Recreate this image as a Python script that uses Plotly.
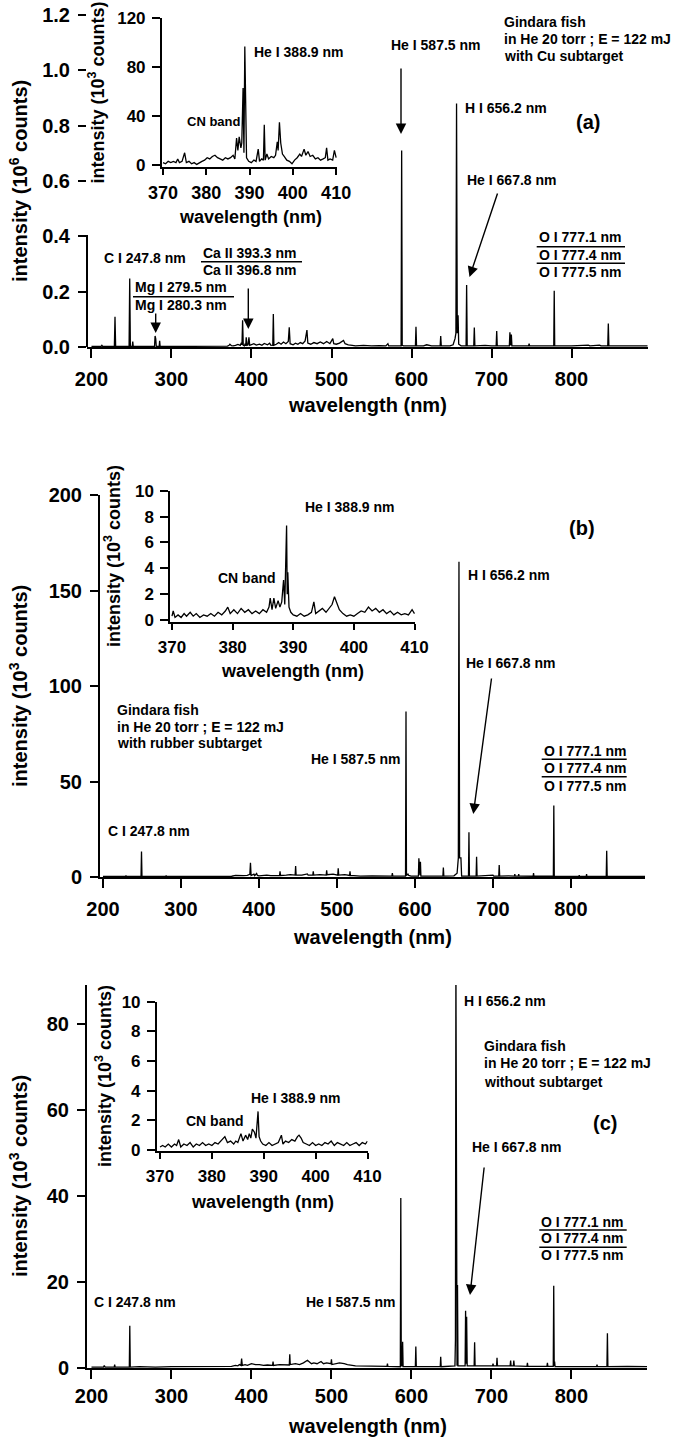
import plotly.graph_objects as go

W, H = 678, 1440
FONT = "Liberation Sans, Arial, Helvetica, sans-serif"

# ---------------- DATA ----------------
# Panel (a): Cu subtarget, intensity in 10^6 counts
a_wl = [200, 212, 213, 214, 228.6, 229.4, 230.2, 247.0, 247.8, 248.6,
        251.0, 251.6, 252.2, 278.8, 279.5, 280.3, 281.0, 284.6, 285.2, 285.8,
        300, 340, 370, 372, 373, 375, 377, 380, 383, 386,
        387.4, 388.1, 388.9, 389.7, 391.2, 392.0, 392.8, 393.4, 394.5, 395.8,
        396.8, 397.8, 400, 403, 406, 410, 413, 416, 420, 422.7,
        424, 426.6, 427.3, 428.0, 431, 434, 437, 440, 443, 446,
        447.2, 448.3, 452, 455, 458, 461, 464, 467, 469.3, 470.4,
        474, 478, 482, 486, 490, 494, 498, 501.6, 502.8, 506,
        510, 513, 515, 517, 521, 526, 530, 540, 550, 560,
        568, 570.5, 571.5, 580, 587.0, 587.7, 588.4, 590, 600, 604.9,
        605.6, 606.3, 615, 619, 625, 635.8, 636.5, 637.2, 648, 652,
        654.4, 655.5, 656.3, 657.2, 658.2, 659.0, 662, 668.2, 668.9, 669.6,
        677.8, 678.5, 679.2, 692, 700, 705.8, 706.5, 707.2, 718, 722.3,
        723.0, 723.8, 724.8, 725.5, 735, 746.3, 747.0, 747.7, 760, 777.8,
        778.4, 779.0, 800, 810, 812, 821, 823, 835, 837, 845.3,
        846.0, 846.7, 870, 895]
a_int = [.002, .002, .006, .002, .002, .109, .002, .002, .248, .002,
         .002, .020, .002, .002, .040, .030, .002, .002, .022, .002,
         .002, .002, .003, .006, .010, .005, .004, .006, .009, .006,
         .015, .008, .097, .006, .004, .012, .004, .035, .006, .008,
         .035, .006, .008, .012, .007, .010, .006, .013, .008, .014,
         .007, .006, .119, .006, .010, .016, .010, .018, .012, .020,
         .071, .012, .008, .014, .010, .016, .012, .022, .061, .014,
         .010, .016, .012, .018, .012, .020, .012, .030, .012, .010,
         .014, .020, .024, .012, .008, .006, .004, .006, .004, .005,
         .004, .012, .004, .004, .004, .710, .006, .004, .004, .004,
         .073, .004, .004, .008, .004, .004, .040, .004, .004, .008,
         .030, .050, .880, .050, .115, .010, .004, .004, .224, .004,
         .004, .070, .004, .006, .004, .004, .058, .004, .004, .004,
         .053, .006, .045, .004, .004, .004, .012, .004, .004, .004,
         .203, .004, .004, .006, .004, .007, .004, .007, .004, .004,
         .085, .004, .004, .004]

# Panel (b): rubber subtarget, intensity in 10^3 counts
b_wl = [200, 228.9, 229.5, 230.1, 248.8, 249.4, 250.0, 280.4, 281.0, 281.6,
        300, 340, 360, 365, 370, 375, 380, 385, 387.5, 388.3,
        389.1, 389.9, 393.5, 394.5, 397.0, 398, 400, 405, 410, 415,
        420, 426.4, 427.0, 427.6, 435, 440, 446.4, 447.0, 447.6, 455,
        462, 463, 469.0, 469.6, 470.2, 478, 486.2, 486.8, 487.4, 495,
        501.0, 501.6, 502.2, 510, 516.1, 516.7, 517.3, 530, 545, 560,
        570.4, 571.0, 571.6, 580, 587.9, 588.5, 589.1, 591, 592, 595,
        604.4, 605.0, 605.7, 606.4, 607.0, 607.6, 620, 635.8, 636.4, 637.0,
        650, 654, 655.6, 656.4, 657.2, 658.9, 659.8, 668.6, 669.2, 669.8,
        678.4, 679.0, 679.6, 690, 700, 701, 707.4, 708.0, 708.6, 720,
        727.5, 728.0, 728.5, 732.5, 733.0, 733.5, 745, 751.5, 752.0, 752.5,
        777.4, 778.0, 778.6, 800, 810.2, 810.6, 811.0, 819.6, 820.0, 820.4,
        845.2, 845.8, 846.4, 872.6, 873.0, 873.4, 895]
b_int = [0.3, 0.3, 0.8, 0.3, 0.3, 13.3, 0.3, 0.3, 0.8, 0.3,
         0.3, 0.3, 0.5, 0.4, 0.8, 0.6, 0.7, 0.9, 1.5, 1.4,
         7.5, 0.8, 1.5, 0.7, 1.8, 0.8, 0.6, 0.9, 1.0, 0.7,
         0.9, 0.8, 3.0, 0.8, 1.0, 1.2, 1.0, 5.8, 1.0, 1.0,
         1.6, 1.0, 1.0, 3.0, 1.0, 1.2, 1.0, 3.5, 1.2, 1.5,
         1.0, 4.5, 1.0, 1.2, 0.8, 3.0, 0.8, 0.5, 0.6, 0.6,
         0.5, 2.0, 0.5, 0.5, 0.5, 86.7, 0.8, 1.5, 0.8, 0.5,
         0.5, 9.8, 1.0, 1.0, 8.0, 0.5, 0.5, 0.5, 5.0, 0.5,
         0.6, 2.0, 10.0, 165.0, 10.0, 10.0, 0.5, 0.5, 23.4, 0.5,
         0.5, 10.6, 0.5, 0.6, 1.0, 0.5, 0.5, 6.3, 0.5, 0.6,
         0.5, 1.5, 0.5, 0.5, 1.5, 0.5, 0.4, 0.4, 2.0, 0.4,
         0.4, 37.4, 0.4, 0.3, 0.3, 1.0, 0.3, 0.3, 1.5, 0.3,
         0.3, 13.8, 0.3, 0.3, 0.6, 0.3, 0.3]

# Panel (c): without subtarget, intensity in 10^3 counts
c_wl = [200, 215, 216, 217, 228.4, 229.0, 229.6, 247.3, 247.9, 248.5,
        260, 280, 300, 340, 360, 375, 380, 383, 385, 386.9,
        387.7, 388.5, 392, 395, 400, 405, 410, 415, 420, 426.4,
        427.0, 427.6, 435, 440, 447.3, 447.9, 448.5, 455, 460, 465,
        470, 475, 478, 482, 487, 490, 494, 499.4, 500.0, 500.6,
        505, 510, 516, 520, 530, 550, 569.4, 570.0, 570.6, 586.1,
        586.7, 587.3, 588.4, 589.0, 589.6, 604.9, 605.5, 606.1, 636.0, 636.6,
        637.2, 654.4, 655.0, 655.6, 656.4, 657.0, 657.6, 658.2, 667.1, 667.7,
        668.3, 669.0, 669.7, 678.4, 679.0, 679.6, 701.4, 702.0, 702.6, 706.4,
        707.0, 707.6, 723.4, 724.0, 724.6, 727.4, 728.0, 728.6, 744.4, 745.0,
        745.6, 769.4, 770.0, 770.6, 777.3, 777.9, 778.5, 779.0, 779.6, 810,
        831.4, 832.0, 832.6, 844.4, 845.0, 845.6, 870, 895]
c_int = [0.2, 0.2, 0.6, 0.2, 0.2, 0.8, 0.2, 0.2, 9.8, 0.2,
         0.3, 0.2, 0.3, 0.3, 0.4, 0.4, 0.6, 0.5, 0.8, 0.6,
         2.2, 0.6, 0.8, 0.6, 1.0, 0.8, 0.8, 0.6, 0.7, 0.6,
         1.5, 0.6, 0.8, 0.7, 0.7, 3.2, 0.8, 1.0, 0.8, 1.2,
         1.8, 1.0, 1.2, 1.0, 1.5, 1.0, 1.2, 1.0, 2.0, 0.8,
         1.0, 1.2, 1.0, 0.8, 0.5, 0.5, 0.4, 1.0, 0.4, 0.3,
         39.5, 0.5, 0.5, 6.1, 0.3, 0.3, 5.0, 0.3, 0.3, 2.6,
         0.3, 0.5, 6.5, 95.0, 1.0, 0.5, 19.3, 0.5, 0.5, 13.3,
         1.0, 11.9, 0.5, 0.5, 6.0, 0.5, 0.5, 1.0, 0.5, 0.5,
         2.4, 0.5, 0.5, 1.7, 0.5, 0.5, 1.7, 0.5, 0.4, 1.2,
         0.4, 0.4, 1.2, 0.4, 0.4, 19.1, 0.5, 1.5, 0.3, 0.4,
         0.3, 0.8, 0.3, 0.3, 8.1, 0.3, 0.4, 0.3]

# Insets (370-410 nm), intensity in 10^3 counts
ia_wl = [370.0, 370.6, 371.2, 371.8, 372.4, 373.0, 373.4, 373.8, 374.4, 375.0,
         375.4, 376.0, 376.6, 377.2, 377.8, 378.4, 379.0, 379.6, 380.2, 380.8,
         381.4, 382.0, 382.6, 383.2, 383.8, 384.4, 385.0, 385.6, 386.2, 386.6,
         387.0, 387.3, 387.6, 388.0, 388.2, 388.5, 388.7, 388.9, 389.1, 389.3,
         389.8, 390.4, 391.0, 391.5, 392.0, 392.3, 392.8, 393.2, 393.4, 393.6,
         394.0, 394.4, 395.0, 395.6, 396.0, 396.4, 396.6, 396.9, 397.2, 397.6,
         398.0, 398.6, 399.2, 399.8, 400.4, 401.0, 401.6, 402.0, 402.6, 403.0,
         403.5, 404.0, 404.6, 405.2, 405.8, 406.4, 407.0, 407.5, 407.8, 408.1,
         408.6, 409.2, 409.6, 410.0]
ia_int = [2, 1, 3, 2, 3, 2, 5, 2, 3, 10,
          2, 3, 1, 2, 0.5, 2, 3, 4, 6, 5,
          7, 8, 6, 5, 4, 6, 5, 6, 8, 5,
          22, 12, 23, 14, 18, 63, 10, 97, 20, 6,
          3, 2, 4, 3, 13, 3, 5, 4, 33, 4,
          9, 5, 7, 6, 8, 19, 12, 35, 18, 9,
          7, 4, 3, 1, 4, 6, 9, 7, 13, 8,
          11, 7, 8, 5, 6, 4, 5, 6, 14, 4,
          5, 4, 12, 6]

ib_wl = [370.0, 370.2, 370.5, 371.0, 371.5, 372.0, 372.4, 373.0, 373.5, 374.0,
         374.6, 375.2, 375.8, 376.4, 377.0, 377.6, 378.2, 378.8, 379.2, 379.6,
         380.2, 380.8, 381.4, 382.0, 382.6, 383.2, 383.8, 384.4, 385.0, 385.6,
         386.0, 386.2, 386.5, 386.8, 387.1, 387.5, 387.8, 388.1, 388.4, 388.6,
         388.9, 389.0, 389.1, 389.3, 389.6, 390.0, 390.6, 391.2, 391.8, 392.4,
         393.0, 393.4, 393.7, 394.2, 394.8, 395.4, 396.0, 396.4, 396.8, 397.2,
         397.6, 398.2, 398.8, 399.4, 400.0, 400.6, 401.2, 401.8, 402.4, 403.0,
         403.6, 404.2, 404.8, 405.4, 406.0, 406.6, 407.2, 407.8, 408.4, 409.0,
         409.6, 410.0]
ib_int = [0.3, 0.7, 0.2, 0.4, 0.2, 0.5, 0.3, 0.6, 0.3, 0.5,
          0.2, 0.4, 0.3, 0.5, 0.3, 0.6, 0.4, 0.7, 1.0, 0.5,
          0.8, 0.5, 0.9, 0.6, 0.8, 0.5, 0.7, 0.5, 0.8, 0.6,
          1.0, 1.7, 0.8, 1.7, 0.9, 1.5, 1.0, 1.4, 3.1, 1.2,
          7.3, 2.0, 3.7, 1.0, 0.6, 0.4, 0.3, 0.5, 0.3, 0.4,
          0.6, 1.4, 0.5, 0.7, 0.9, 0.6, 1.0, 1.2, 1.8, 1.3,
          0.8, 0.5, 0.3, 0.4, 0.3, 0.5, 0.7, 0.6, 1.0, 0.7,
          0.9, 0.6, 0.8, 0.5, 0.7, 0.4, 0.6, 0.4, 0.5, 0.4,
          0.8, 0.5]

ic_wl = [370.0, 370.5, 371.0, 371.6, 372.2, 372.8, 373.2, 373.6, 374.0, 374.6,
         375.2, 375.8, 376.4, 377.0, 377.6, 378.2, 378.8, 379.4, 380.0, 380.6,
         381.2, 381.8, 382.5, 383.0, 383.6, 384.2, 384.6, 385.0, 385.6, 386.0,
         386.5, 386.9, 387.2, 387.5, 387.8, 388.2, 388.5, 388.9, 389.1, 389.4,
         389.8, 390.4, 391.0, 391.6, 392.2, 392.8, 393.4, 393.7, 394.2, 394.8,
         395.4, 396.0, 396.5, 396.8, 397.2, 397.6, 398.2, 398.8, 399.4, 400.0,
         400.6, 401.2, 401.8, 402.4, 403.0, 403.6, 404.2, 404.8, 405.4, 406.0,
         406.6, 407.2, 407.8, 408.4, 409.0, 409.6, 410.0]
ic_int = [0.2, 0.3, 0.2, 0.4, 0.2, 0.4, 0.3, 0.7, 0.2, 0.4,
          0.3, 0.5, 0.2, 0.4, 0.3, 0.5, 0.3, 0.4, 0.3, 0.5,
          0.4, 0.6, 0.9, 0.5, 0.6, 0.4, 0.6, 0.5, 1.1, 0.6,
          1.0, 0.7, 1.1, 0.8, 1.4, 1.2, 0.8, 2.6, 0.9, 0.6,
          0.4, 0.3, 0.5, 0.3, 0.4, 0.5, 1.0, 0.4, 0.6, 0.5,
          0.7, 0.6, 0.9, 1.0, 0.8, 0.5, 0.4, 0.3, 0.5, 0.3,
          0.4, 0.3, 0.5, 0.4, 0.6, 0.3, 0.5, 0.4, 0.3, 0.5,
          0.3, 0.4, 0.5, 0.3, 0.5, 0.4, 0.6]

main_xticks = [200, 300, 400, 500, 600, 700, 800]
inset_xticks = [370, 380, 390, 400, 410]

# ---------------- HELPERS ----------------
def fx(x):
    return x / W


def fy(y):
    return 1 - y / H


def dom_x(x0, x1):
    return [fx(x0), fx(x1)]


def dom_y(ytop, ybot):
    return [fy(ybot), fy(ytop)]


def font(size):
    return dict(family=FONT, size=size, color="black", weight="bold")


def axis(size, lw, tl, standoff):
    return dict(showline=True, linecolor="black", linewidth=lw, ticks="outside",
                ticklen=tl, tickwidth=lw, tickcolor="black", showgrid=False,
                zeroline=False, tickfont=font(size), fixedrange=True,
                automargin=False, ticklabelstandoff=standoff)


fig = go.Figure()
series = [(a_wl, a_int, "x", "y"), (ia_wl, ia_int, "x2", "y2"),
          (b_wl, b_int, "x3", "y3"), (ib_wl, ib_int, "x4", "y4"),
          (c_wl, c_int, "x5", "y5"), (ic_wl, ic_int, "x6", "y6")]
for xs, ys, xa, ya in series:
    assert len(xs) == len(ys)
    fig.add_trace(go.Scatter(x=xs, y=ys, xaxis=xa, yaxis=ya, mode="lines",
                             line=dict(color="black", width=1.3), hoverinfo="skip"))

fig.update_layout(
    template="none",
    xaxis=dict(**axis(20, 2, 9, 4), domain=dom_x(87, 648), range=[194.4, 895.6],
               tickvals=main_xticks, anchor="y"),
    yaxis=dict(**axis(20, 2, 8, 4), domain=dom_y(15, 347), range=[0, 1.2],
               tickvals=[0, 0.2, 0.4, 0.6, 0.8, 1.0, 1.2], tickformat=".1f", anchor="x"),
    xaxis3=dict(**axis(20, 2, 9, 4), domain=dom_x(100, 645), range=[196.2, 894.9],
                tickvals=main_xticks, anchor="y3"),
    yaxis3=dict(**axis(20, 2, 8, 4), domain=dom_y(495, 877), range=[0, 200],
                tickvals=[0, 50, 100, 150, 200], anchor="x3"),
    xaxis5=dict(**axis(20, 2, 9, 0), domain=dom_x(87, 647), range=[194.4, 894.5],
                tickvals=main_xticks, anchor="y5"),
    yaxis5=dict(**axis(20, 2, 8, 4), domain=dom_y(985, 1368), range=[0, 89],
                tickvals=[0, 20, 40, 60, 80], anchor="x5"),
    xaxis2=dict(**axis(18, 1.5, 6, 3), domain=dom_x(161.7, 337), range=[369.7, 410.2],
                tickvals=inset_xticks, anchor="y2"),
    yaxis2=dict(**axis(17, 1.5, 8, 3), domain=dom_y(18.3, 167), range=[-1.6, 120],
                tickvals=[0, 40, 80, 120], anchor="x2"),
    xaxis4=dict(**axis(17, 1.5, 6, 3), domain=dom_x(170, 415), range=[369.67, 410.08],
                tickvals=inset_xticks, anchor="y4"),
    yaxis4=dict(**axis(17, 1.5, 8, 3), domain=dom_y(490.7, 622), range=[-0.15, 10],
                tickvals=[0, 2, 4, 6, 8, 10], anchor="x4"),
    xaxis6=dict(**axis(17, 1.5, 6, 3), domain=dom_x(156.7, 367.5), range=[369.36, 410.0],
                tickvals=inset_xticks, anchor="y6"),
    yaxis6=dict(**axis(17, 1.5, 8, 3), domain=dom_y(1001.7, 1151), range=[-0.07, 10],
                tickvals=[0, 2, 4, 6, 8, 10], anchor="x6"),
)
# panel (a): y axis line drawn only from 0 to 0.4 (as in the original)
fig.update_layout(yaxis_showline=False)

ann = []
shapes = []


def txt(s, x, y, size=14, anchor="left", angle=0):
    ann.append(dict(text=s, x=fx(x), y=fy(y), xref="paper", yref="paper",
                    xanchor=anchor, yanchor="middle", showarrow=False,
                    textangle=angle, font=font(size)))


def arrow(tx, ty, hx, hy):
    ann.append(dict(text="", x=fx(hx), y=fy(hy), xref="paper", yref="paper",
                    ax=tx - hx, ay=ty - hy, showarrow=True, arrowhead=2,
                    arrowsize=1.5, arrowwidth=1.4, arrowcolor="black"))


def hline(x0, x1, y):
    shapes.append(dict(type="line", xref="paper", yref="paper", x0=fx(x0), x1=fx(x1),
                       y0=fy(y), y1=fy(y), line=dict(color="black", width=1.5)))


shapes.append(dict(type="line", xref="paper", yref="y", x0=fx(87), x1=fx(87),
                   y0=0, y1=0.405, line=dict(color="black", width=2)))

# axis titles
for xc, yc in [(367.5, 405), (372.5, 937), (367, 1426)]:
    txt("wavelength (nm)", xc, yc, 20, "center")
txt("intensity (10<sup>6</sup> counts)", 18, 181, 20, "center", -90)
txt("intensity (10<sup>3</sup> counts)", 18, 686, 20, "center", -90)
txt("intensity (10<sup>3</sup> counts)", 18, 1176, 20, "center", -90)
for xc, yc in [(250.8, 217), (292.5, 671), (262, 1202)]:
    txt("wavelength (nm)", xc, yc, 18, "center")
txt("intensity (10<sup>3</sup> counts)", 97, 92.6, 18, "center", -90)
txt("intensity (10<sup>3</sup> counts)", 112, 556, 18, "center", -90)
txt("intensity (10<sup>3</sup> counts)", 103, 1076, 18, "center", -90)

# ---- panel (a) labels
txt("He I 388.9 nm", 252, 52)
txt("CN band", 185, 121.7, 13)
txt("C I 247.8 nm", 101.7, 258)
txt("Mg I 279.5 nm", 133, 287.3)
txt("Mg I 280.3 nm", 133, 305)
hline(133, 234, 296.7)
arrow(155.7, 312, 155.7, 333)
txt("Ca II 393.3 nm", 201, 252.7)
txt("Ca II 396.8 nm", 201, 270)
hline(201, 302, 261.7)
arrow(248.3, 287, 248.3, 329)
txt("He I 587.5 nm", 389, 45)
arrow(401, 67, 401, 134)
txt("H I 656.2 nm", 463, 108)
txt("(a)", 588, 122, 20, "center")
txt("Gindara fish", 502, 22)
txt("in He 20 torr ; E = 122 mJ", 502, 39.3)
txt("with Cu subtarget", 502, 56)
txt("He I 667.8 nm", 465, 180)
arrow(498, 192, 469.5, 277)
txt("O I 777.1 nm", 536.7, 237.3)
txt("O I 777.4 nm", 536.7, 255)
txt("O I 777.5 nm", 536.7, 272.3)
hline(536.7, 625, 246.7)
hline(536.7, 625, 263.3)

# ---- panel (b) labels
txt("He I 388.9 nm", 303.3, 507.3)
txt("CN band", 216, 578.3)
txt("(b)", 581.7, 528.3, 20, "center")
txt("H I 656.2 nm", 465.7, 575)
txt("He I 667.8 nm", 464, 663.3)
arrow(491.7, 677, 473.3, 814)
txt("Gindara fish", 115, 710)
txt("in He 20 torr ; E = 122 mJ", 115, 726.7)
txt("with rubber subtarget", 115, 743.3)
txt("He I 587.5 nm", 403, 759, anchor="right")
txt("C I 247.8 nm", 106, 830.7)
txt("O I 777.1 nm", 541.7, 750.7)
txt("O I 777.4 nm", 541.7, 768.3)
txt("O I 777.5 nm", 541.7, 785.7)
hline(541.7, 626.7, 759.3)
hline(541.7, 626.7, 776.7)

# ---- panel (c) labels
txt("He I 388.9 nm", 249.3, 1097.7)
txt("CN band", 184, 1120.7)
txt("H I 656.2 nm", 461.7, 1001)
txt("Gindara fish", 481.7, 1046)
txt("in He 20 torr ; E = 122 mJ", 481.7, 1063.3)
txt("without subtarget", 481.7, 1081.7)
txt("(c)", 605, 1123.3, 20, "center")
txt("He I 667.8 nm", 470, 1146.7)
arrow(484.3, 1166, 470, 1295)
txt("C I 247.8 nm", 91.7, 1301.7)
txt("He I 587.5 nm", 398.3, 1301.7, anchor="right")
txt("O I 777.1 nm", 539.3, 1221.7)
txt("O I 777.4 nm", 539.3, 1238.3)
txt("O I 777.5 nm", 539.3, 1255)
hline(539.3, 626.7, 1230)
hline(539.3, 626.7, 1247.3)

fig.update_layout(width=W, height=H, margin=dict(l=0, r=0, t=0, b=0, pad=0),
                  showlegend=False, paper_bgcolor="white", plot_bgcolor="white",
                  annotations=ann, shapes=shapes, font=dict(family=FONT))

# remove the browser's default 8px page margin so the figure starts at (0, 0)
fig.write_html("out.html", config={"displayModeBar": False},
               post_script="document.body.style.margin='0';document.body.style.padding='0';")
